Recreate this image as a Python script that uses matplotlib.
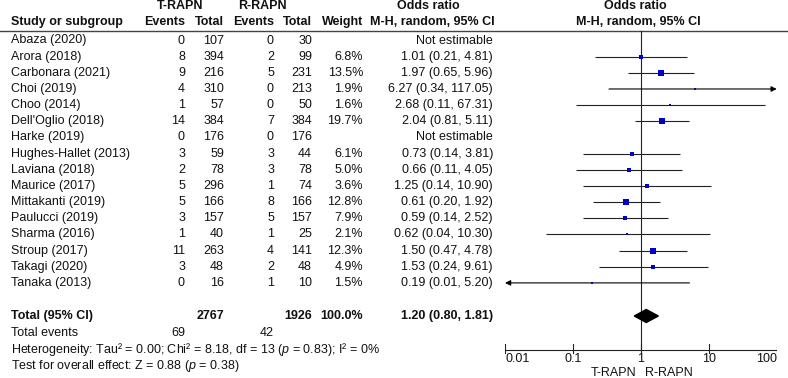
import numpy as np
import matplotlib
matplotlib.use("Agg")
import matplotlib.pyplot as plt

plt.rcParams["font.family"] = ["Liberation Sans", "DejaVu Sans"]
plt.rcParams["mathtext.fontset"] = "custom"
plt.rcParams["mathtext.rm"] = "Liberation Sans"
plt.rcParams["mathtext.it"] = "Liberation Sans:italic"

# Study data
studies = ["Abaza (2020)", "Arora (2018)", "Carbonara (2021)", "Choi (2019)",
           "Choo (2014)", "Dell'Oglio (2018)", "Harke (2019)",
           "Hughes-Hallet (2013)", "Laviana (2018)", "Maurice (2017)",
           "Mittakanti (2019)", "Paulucci (2019)", "Sharma (2016)",
           "Stroup (2017)", "Takagi (2020)", "Tanaka (2013)"]
t_events = [0, 8, 9, 4, 1, 14, 0, 3, 2, 5, 5, 3, 1, 11, 3, 0]
t_total = [107, 394, 216, 310, 57, 384, 176, 59, 78, 296, 166, 157, 40, 263, 48, 16]
r_events = [0, 2, 5, 0, 0, 7, 0, 3, 3, 1, 8, 5, 1, 4, 2, 1]
r_total = [30, 99, 231, 213, 50, 384, 176, 44, 78, 74, 166, 157, 25, 141, 48, 10]
weight = [None, 6.8, 13.5, 1.9, 1.6, 19.7, None, 6.1, 5.0, 3.6, 12.8, 7.9, 2.1, 12.3, 4.9, 1.5]
odds = [None, 1.01, 1.97, 6.27, 2.68, 2.04, None, 0.73, 0.66, 1.25, 0.61, 0.59, 0.62, 1.50, 1.53, 0.19]
ci_lo = [None, 0.21, 0.65, 0.34, 0.11, 0.81, None, 0.14, 0.11, 0.14, 0.20, 0.14, 0.04, 0.47, 0.24, 0.01]
ci_hi = [None, 4.81, 5.96, 117.05, 67.31, 5.11, None, 3.81, 4.05, 10.90, 1.92, 2.52, 10.30, 4.78, 9.61, 5.20]

total_t, total_r = 2767, 1926
events_t, events_r = 69, 42
pooled = (1.20, 0.80, 1.81)
axis_ticks = [0.01, 0.1, 1, 10, 100]
axis_labels = ["0.01", "0.1", "1", "10", "100"]

W, H = 788, 378
fs = 9.0
ink = "#111111"
sq_color = "#0000c8"

fig = plt.figure(figsize=(W / 100, H / 100), dpi=100)
ax = fig.add_axes([0, 0, 1, 1])
ax.set_xlim(0, W)
ax.set_ylim(H, 0)
ax.axis("off")

# forest panel: log x-axis, y in the same pixel rows as the table
x0, x1 = 505, 776.7
axf = fig.add_axes([x0 / W, 0, (x1 - x0) / W, 1])
axf.set_xscale("log")
axf.set_xlim(0.01, 100)
axf.set_ylim(H, 0)
axf.axis("off")


def txt(x, y, s, ha="right", bold=False):
    ax.text(x, y, s, ha=ha, va="center", fontsize=fs, color=ink,
            fontweight="bold" if bold else "normal")


# header
col_te, col_tt, col_re, col_rt, col_w, col_or = 185, 224, 274, 312, 363, 493
txt(180.5, 6, "T-RAPN", ha="center", bold=True)
txt(262.5, 6, "R-RAPN", ha="center", bold=True)
txt(11, 22, "Study or subgroup", ha="left", bold=True)
for cx, lab in [(col_te, "Events"), (col_tt, "Total"), (col_re, "Events"),
                (col_rt, "Total"), (col_w, "Weight")]:
    txt(cx, 22, lab, bold=True)
txt(428, 6, "Odds ratio", ha="center", bold=True)
txt(432, 22, "M-H, random, 95% CI", ha="center", bold=True)
txt(635, 6, "Odds ratio", ha="center", bold=True)
txt(638, 22, "M-H, random, 95% CI", ha="center", bold=True)
ax.plot([0, W], [30.5, 30.5], color="#444444", lw=1.0)

# study rows
row_y = 40.5 + 16.16 * np.arange(len(studies))
arrow = dict(arrowstyle="-|>", color="black", lw=0.8, mutation_scale=8,
             shrinkA=0, shrinkB=0)
for i, name in enumerate(studies):
    y = row_y[i]
    txt(11, y, name, ha="left")
    txt(col_te, y, str(t_events[i]))
    txt(col_tt, y, str(t_total[i]))
    txt(col_re, y, str(r_events[i]))
    txt(col_rt, y, str(r_total[i]))
    if odds[i] is None:
        txt(col_or, y, "Not estimable")
        continue
    txt(col_w, y, f"{weight[i]:.1f}%")
    txt(col_or, y, f"{odds[i]:.2f} ({ci_lo[i]:.2f}, {ci_hi[i]:.2f})")

    if ci_hi[i] > 100:
        axf.annotate("", xy=(100, y), xytext=(ci_lo[i], y), arrowprops=arrow)
    elif ci_lo[i] <= 0.01:
        axf.annotate("", xy=(0.01, y), xytext=(ci_hi[i], y), arrowprops=arrow)
    else:
        axf.plot([ci_lo[i], ci_hi[i]], [y, y], color="#222222", lw=0.8,
                 solid_capstyle="butt")
    ms = 1.2 * np.sqrt(weight[i]) * 0.72 + 0.6
    axf.plot(odds[i], y, marker="s", ms=ms, color=sq_color, mec=sq_color,
             mew=0, zorder=3)

# totals
y_tot = 316
txt(11, y_tot, "Total (95% CI)", ha="left", bold=True)
txt(col_tt, y_tot, str(total_t), bold=True)
txt(col_rt, y_tot, str(total_r), bold=True)
txt(col_w, y_tot, "100.0%", bold=True)
txt(col_or, y_tot, f"{pooled[0]:.2f} ({pooled[1]:.2f}, {pooled[2]:.2f})", bold=True)
axf.fill([pooled[1], pooled[0], pooled[2], pooled[0]],
         [y_tot, y_tot - 6.5, y_tot, y_tot + 6.5], color="black", zorder=3)

txt(11, 333.5, "Total events", ha="left")
txt(col_te, 333.5, str(events_t))
txt(col_re, 333.5, str(events_r))
txt(11, 350, r"Heterogeneity: Tau² = 0.00; Chi² = 8.18, df = 13 ($\mathit{p}$ = 0.83); I² = 0%", ha="left")
txt(11, 366.5, r"Test for overall effect: Z = 0.88 ($\mathit{p}$ = 0.38)", ha="left")

# vertical line of no effect and the bottom axis
axf.plot([1, 1], [30.5, 350], color="#222222", lw=0.8)
y_ax = 350
axf.plot([0.01, 100], [y_ax, y_ax], color="#222222", lw=0.8)
for k, (tv, tl) in enumerate(zip(axis_ticks, axis_labels)):
    axf.plot([tv, tv], [y_ax - 6, y_ax + 3], color="#222222", lw=0.8)
    ha = "left" if k == 0 else ("right" if k == len(axis_ticks) - 1 else "center")
    axf.text(tv, 358.5, tl, ha=ha, va="center", fontsize=fs, color=ink)
axf.text(0.87, 372.5, "T-RAPN", ha="right", va="center", fontsize=fs, color=ink)
axf.text(1.15, 372.5, "R-RAPN", ha="left", va="center", fontsize=fs, color=ink)

fig.savefig("out.png", dpi=100)
